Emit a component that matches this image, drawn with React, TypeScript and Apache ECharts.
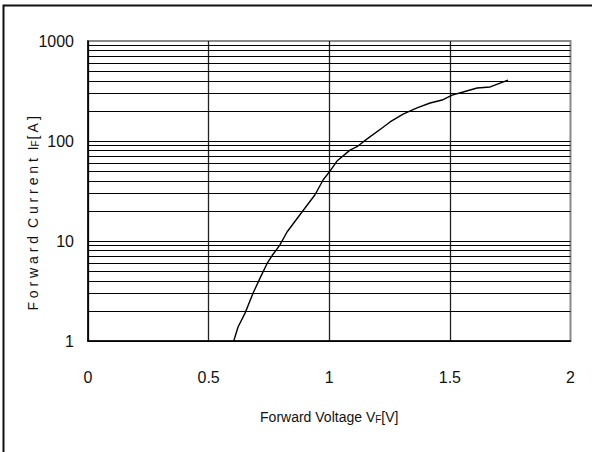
import React, { useEffect, useRef } from "react";
import * as echarts from "echarts";

const voltage = [0.604, 0.622, 0.651, 0.684, 0.714, 0.743, 0.764, 0.795, 0.825, 0.887, 0.941, 0.975, 1.003, 1.032, 1.086, 1.119, 1.157, 1.219, 1.252, 1.306, 1.364, 1.418, 1.468, 1.509, 1.555, 1.613, 1.667, 1.741];
const current = [1.0, 1.38, 1.9, 3.0, 4.3, 6.0, 7.2, 9.1, 12.3, 19.5, 29, 41, 50, 63, 81, 89, 105, 135, 155, 186, 214, 240, 257, 288, 309, 339, 347, 407];
const minorGrid = [2, 3, 4, 5, 6, 7, 8, 9, 20, 30, 40, 50, 60, 70, 80, 90, 200, 300, 400, 500, 600, 700, 800, 900];

const FONT = "'Liberation Sans', Arial, sans-serif";

export default function App() {
  const ref = useRef<HTMLDivElement>(null);
  useEffect(() => {
    if (!ref.current) return;
    const chart = echarts.init(ref.current, undefined, { renderer: "svg" });
    chart.setOption({
      animation: false,
      backgroundColor: "#fff",
      grid: {
        left: 88, right: 21.5, top: 41, bottom: 111,
        containLabel: false, outerBoundsMode: "none",
        show: true, borderColor: "#8a8a8a", borderWidth: 2,
      },
      graphic: [
        { type: "rect", shape: { x: 3.5, y: 5.5, width: 640, height: 500 }, style: { fill: "none", stroke: "#111", lineWidth: 2 }, z: 100 },
      ],
      xAxis: {
        type: "value",
        min: 0,
        max: 2,
        interval: 0.5,
        name: "{a|Forward Voltage V}{b|F}{a|[V]}",
        nameLocation: "middle",
        nameGap: 68,
        nameMoveOverlap: false,
        nameTextStyle: {
          rich: {
            a: { fontFamily: FONT, fontSize: 14, color: "#111" },
            b: { fontFamily: FONT, fontSize: 10, color: "#111", padding: [5, 0, 0, 0] },
          },
        },
        axisLine: { show: true, lineStyle: { color: "#000", width: 1.5 } },
        axisTick: { show: false },
        axisLabel: { fontFamily: FONT, fontSize: 16, color: "#111", margin: 28, formatter: (v: number) => String(v) },
        splitLine: { show: true, showMaxLine: false, lineStyle: { color: "#222", width: 1.3 } },
      },
      yAxis: {
        type: "log",
        logBase: 10,
        min: 1,
        max: 1000,
        name: "{a|F o r w a r d  C u r r e n t  I}{b|F}{a|[ A ]}",
        nameLocation: "middle",
        nameGap: 48,
        nameMoveOverlap: false,
        nameTextStyle: {
          padding: [0, 44, 0, 0],
          rich: {
            a: { fontFamily: FONT, fontSize: 14, color: "#111" },
            b: { fontFamily: FONT, fontSize: 10, color: "#111", padding: [5, 0, 0, 0] },
          },
        },
        axisLine: { show: true, lineStyle: { color: "#000", width: 1.5 } },
        axisTick: { show: false },
        axisLabel: { fontFamily: FONT, fontSize: 16, color: "#111", margin: 14, formatter: (v: number) => String(Math.round(v)) },
        splitLine: { show: true, showMaxLine: false, lineStyle: { color: "#000", width: 1.2 } },
        minorTick: { show: false },
      },
      series: [
        {
          type: "line",
          data: voltage.map((v, i) => [v, current[i]]),
          showSymbol: false,
          symbol: "none",
          lineStyle: { color: "#000", width: 1.4 },
          z: 10,
          markLine: {
            silent: true,
            symbol: "none",
            label: { show: false },
            lineStyle: { color: "#000", width: 1, type: "solid" },
            data: minorGrid.map((y) => ({ yAxis: y })),
            z: 1,
          },
        },
      ],
    });
    return () => chart.dispose();
  }, []);
  return <div ref={ref} style={{ position: "absolute", left: 0, top: 0, width: 592, height: 452 }} />;
}
